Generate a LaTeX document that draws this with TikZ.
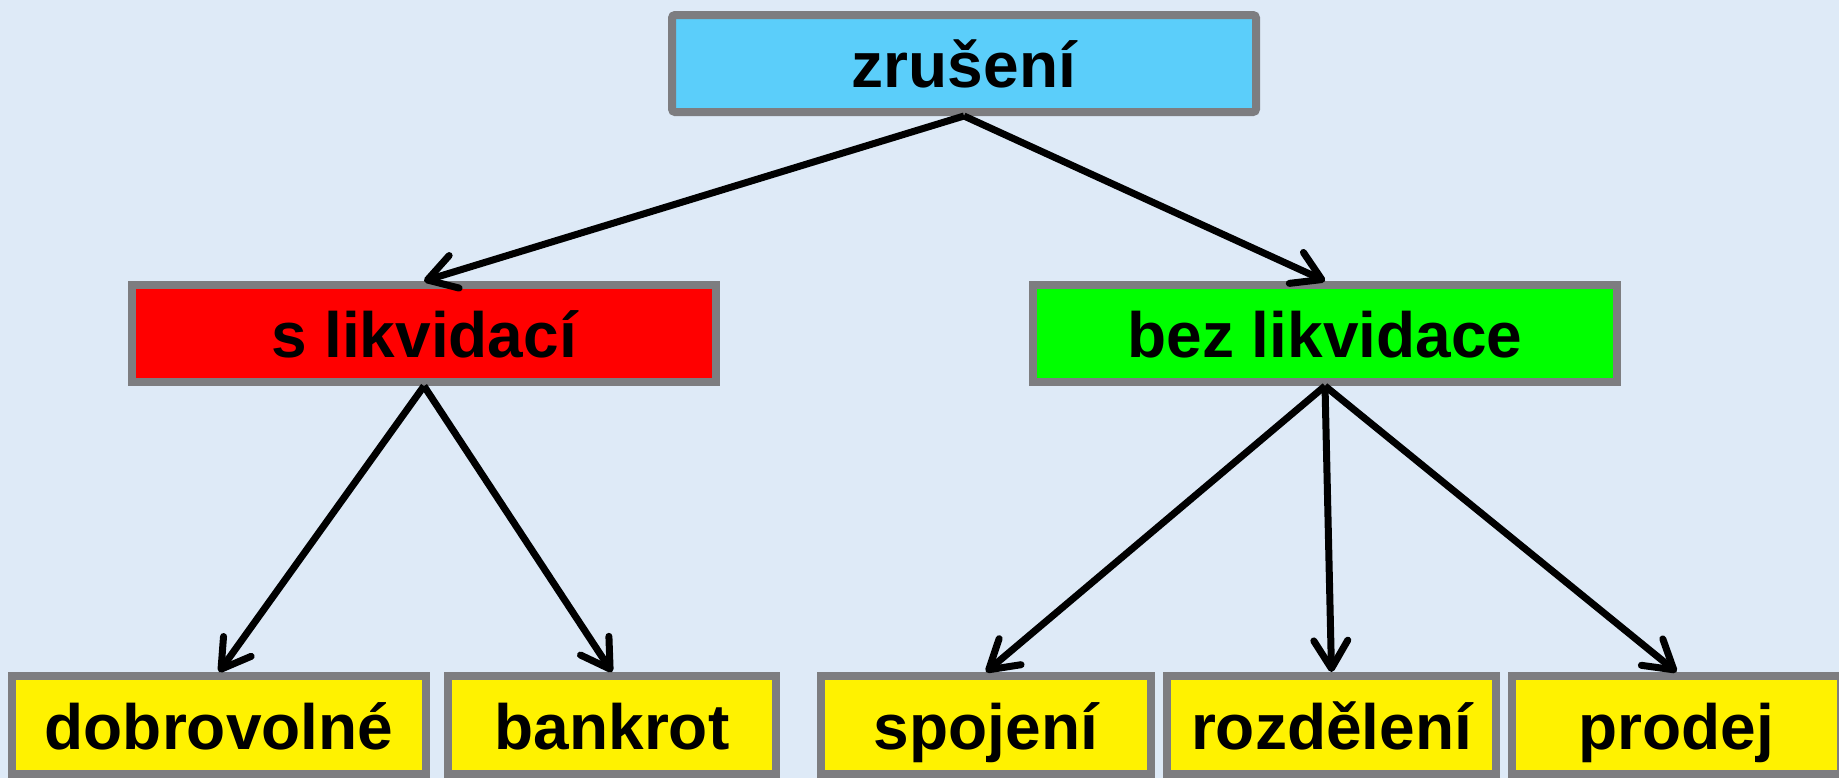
\documentclass[tikz,border=0pt]{standalone}
\usepackage{fontspec}
\setmainfont{Liberation Sans}
\usetikzlibrary{arrows.meta}
\definecolor{bgblue}{RGB}{222,234,247}
\definecolor{topblue}{RGB}{91,206,250}
\definecolor{boxgray}{RGB}{125,125,128}
\begin{document}
\begin{tikzpicture}[x=0.5pt,y=-0.5pt,
  box/.style={draw=boxgray, line width=4pt, inner sep=0pt, text height=24pt, text depth=0pt,
    font=\fontsize{32pt}{38pt}\selectfont\bfseries, minimum height=48.5pt},
  conn/.style={line width=3.5pt, -{Straight Barb[length=14pt,width=17pt,round]}}]
\fill[bgblue] (0,0) rectangle (1839,778);
\useasboundingbox (0,0) rectangle (1839,778);
\node[box, fill=topblue, minimum width=292pt, rounded corners=1.5pt] (zr) at (964,63.5) {zrušení};
\node[box, fill=red, minimum width=292pt] (sl) at (424,333.5) {s likvidací};
\node[box, fill=green, minimum width=292pt] (bl) at (1325,333.5) {bez likvidace};
\node[box, fill=yellow, minimum width=207pt, minimum height=49pt] (do) at (219,725) {dobrovolné};
\node[box, fill=yellow, minimum width=164pt, minimum height=49pt] (ba) at (612,725) {bankrot};
\node[box, fill=yellow, minimum width=165pt, minimum height=49pt] (sp) at (986,725) {spojení};
\node[box, fill=yellow, minimum width=164.5pt, minimum height=49pt] (ro) at (1331.5,725) {rozdělení};
\node[box, fill=yellow, minimum width=164.5pt, minimum height=49pt] (pr) at (1676.5,725) {prodej};
\draw[conn] (zr.south) -- (sl.north);
\draw[conn] (zr.south) -- (bl.north);
\draw[conn] (sl.south) -- (do.north);
\draw[conn] (sl.south) -- (ba.north);
\draw[conn] (bl.south) -- (sp.north);
\draw[conn] (bl.south) -- (ro.north);
\draw[conn] (bl.south) -- (pr.north);
\end{tikzpicture}
\end{document}
